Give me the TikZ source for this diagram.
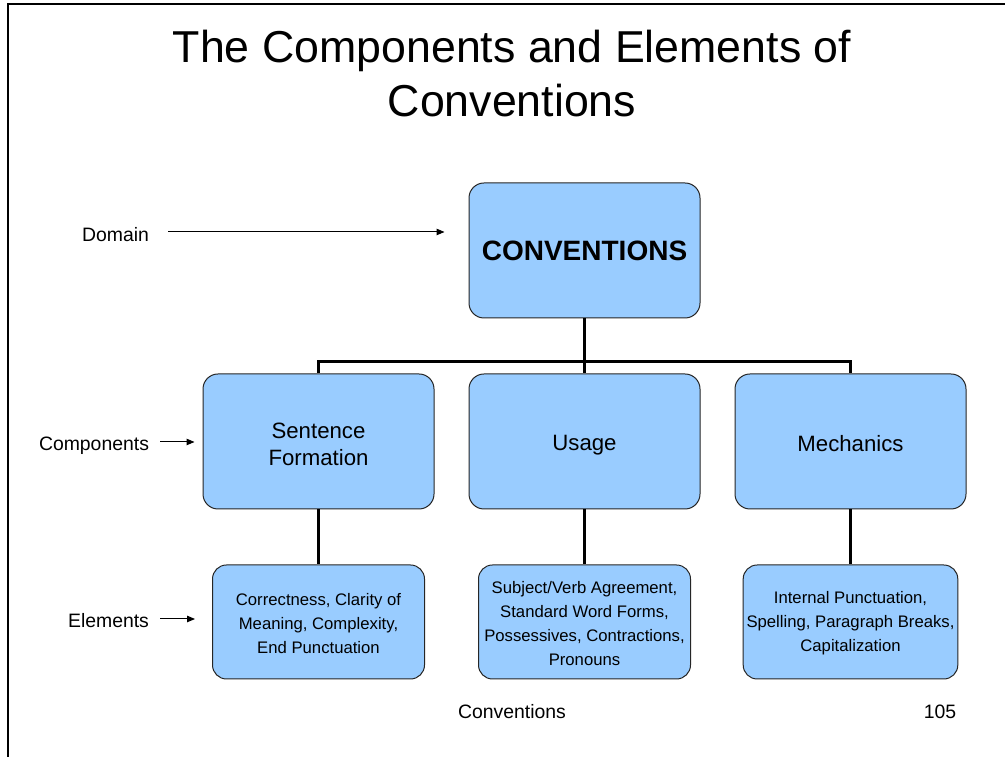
\documentclass[tikz,border=0pt]{standalone}
\usepackage{fontspec}
\setmainfont{Liberation Sans}
\usetikzlibrary{arrows.meta}
\definecolor{boxblue}{HTML}{99CCFF}
\newcommand{\toprule}[1]{\rule{0pt}{#1}}
\tikzstyle{domainbox} = [rectangle, rounded corners=15pt, minimum width=231pt, minimum height=135pt, text centered, draw=black!85, line width=1pt, fill=boxblue, font=\fontsize{28}{34}\selectfont\bfseries]
\tikzstyle{component} = [rectangle, rounded corners=15pt, minimum width=231pt, minimum height=135pt, align=center, draw=black!85, line width=1pt, fill=boxblue, font=\fontsize{22.2}{27}\selectfont]
\tikzstyle{element} = [rectangle, rounded corners=14pt, minimum width=212pt, minimum height=114pt, align=center, draw=black!85, line width=1pt, fill=boxblue, font=\fontsize{16.7}{24}\selectfont]
\tikzstyle{sidelabel} = [inner sep=0pt, font=\fontsize{19.4}{23}\selectfont]
\tikzstyle{tree} = [line width=3pt]
\tikzstyle{arrow} = [line width=1pt, -{Triangle[length=8pt,width=6.5pt]}]

\begin{document}
\begin{tikzpicture}[x=1pt, y=1pt, node distance=266pt]
\useasboundingbox (0,0) rectangle (1005,757);
% Slide frame
\draw [line width=2pt] (8,0) -- (8,753) -- (1005,753);
\node (title) [font=\fontsize{44.7}{54}\selectfont, align=center] at (512,683) {The Components and Elements of\\Conventions};

% Domain
\node (conv) [domainbox] at (584.5,506.5) {CONVENTIONS};

% Components
\node (usage) [component, below of=conv, node distance=191pt, text height=23pt, text depth=4.5pt] {Usage};
\node (sentence) [component, left of=usage] {\toprule{22pt}Sentence\\Formation};
\node (mechanics) [component, right of=usage, text height=21pt, text depth=1pt] {Mechanics};
\coordinate (bar) at (584.5,395);
\draw [tree] (conv.south) -- (usage.north);
\draw [tree] (sentence.north) |- (bar) -| (mechanics.north);

% Elements
\node (usageel) [element, below of=usage, node distance=180.5pt] {\toprule{14.5pt}Subject/Verb Agreement,\\Standard Word Forms,\\Possessives, Contractions,\\Pronouns};
\node (sentenceel) [element, left of=usageel] {\toprule{14.5pt}Correctness, Clarity of\\Meaning, Complexity,\\End Punctuation};
\node (mechanicsel) [element, right of=usageel] {\toprule{14.5pt}Internal Punctuation,\\Spelling, Paragraph Breaks,\\Capitalization};
\draw [tree] (sentence.south) -- (sentenceel.north);
\draw [tree] (usage.south) -- (usageel.north);
\draw [tree] (mechanics.south) -- (mechanicsel.north);

% Level labels on the left
\node (domain) [sidelabel] at (115.5,522) {Domain};
\node (complbl) [sidelabel] at (94,311) {Components};
\node (elemlbl) [sidelabel] at (108.5,136) {Elements};
\draw [arrow, shorten <=19pt, shorten >=24pt] ([yshift=3pt]domain.east) -- ([yshift=3pt]domain.east -| conv.west);
\draw [arrow, shorten <=11pt, shorten >=8pt] ([yshift=4pt]complbl.east) -- ([yshift=4pt]complbl.east -| sentence.west);
\draw [arrow, shorten <=11pt, shorten >=17pt] ([yshift=2pt]elemlbl.east) -- ([yshift=2pt]elemlbl.east -| sentenceel.west);

% Footer
\node (footer) [sidelabel] at (512,45) {Conventions};
\node (pagenum) [sidelabel] at (940,45) {105};
\end{tikzpicture}
\end{document}
